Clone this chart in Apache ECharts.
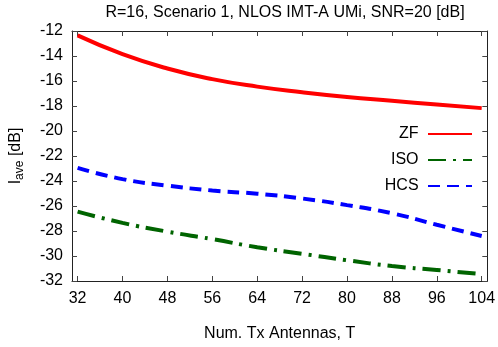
<!DOCTYPE html>
<html>
<head>
<meta charset="utf-8">
<script src="https://cdn.jsdelivr.net/npm/echarts@6/dist/echarts.min.js"></script>
<style>
html, body { margin: 0; padding: 0; background: #fff; }
#chart { width: 498px; height: 347px; }
</style>
</head>
<body>
<div id="chart"></div>
<script>
var antennas = [32, 40, 48, 56, 64, 72, 80, 88, 96, 104];
var zfValues = [-12.35, -13.85, -15.0, -15.85, -16.45, -16.9, -17.28, -17.58, -17.88, -18.17];
var isoValues = [-26.45, -27.35, -28.05, -28.65, -29.3, -29.82, -30.34, -30.8, -31.12, -31.45];
var hcsValues = [-22.95, -23.85, -24.37, -24.76, -25.02, -25.4, -25.93, -26.58, -27.5, -28.4];

var font = 'Liberation Sans, Arial, sans-serif';

function pairs(vals) {
    return antennas.map(function (t, i) { return [t, vals[i]]; });
}

var chart = echarts.init(document.getElementById('chart'));

var baseX = {
    type: 'value',
    min: 31,
    max: 105,
    splitLine: { show: false },
    axisLine: { show: true, onZero: false, lineStyle: { color: '#222', width: 1 } },
    axisTick: { show: true, inside: true, length: 5, customValues: antennas, lineStyle: { color: '#444' } },
    axisLabel: { customValues: antennas, color: '#000', fontSize: 16, fontFamily: font, margin: 10 }
};
var baseY = {
    type: 'value',
    min: -32,
    max: -12,
    interval: 2,
    splitLine: { show: false },
    axisLine: { show: true, onZero: false, lineStyle: { color: '#222', width: 1 } },
    axisTick: { show: true, inside: true, length: 5, lineStyle: { color: '#444' } },
    axisLabel: { color: '#000', fontSize: 16, fontFamily: font, margin: 9 }
};

var option = {
    animation: false,
    title: {
        text: 'R=16, Scenario 1, NLOS IMT-A UMi, SNR=20 [dB]',
        left: 280,
        textAlign: 'center',
        top: 0,
        textStyle: { fontSize: 16, fontWeight: 'normal', color: '#000', fontFamily: font }
    },
    grid: { left: 69, right: 10, top: 31, bottom: 59 },
    legend: {
        orient: 'vertical',
        align: 'right',
        right: 25,
        top: 126,
        padding: 0,
        itemWidth: 44,
        itemHeight: 14,
        itemGap: 10,
        itemStyle: { opacity: 0 },
        formatter: function (name) { return name + ' '; },
        textStyle: { fontSize: 16, color: '#000', fontFamily: font },
        data: ['ZF', 'ISO', 'HCS']
    },
    xAxis: [
        Object.assign({}, baseX, {
            name: 'Num. Tx Antennas, T',
            nameLocation: 'middle',
            nameGap: 45,
            nameTextStyle: { fontSize: 16, color: '#000', fontFamily: font }
        }),
        Object.assign({}, baseX, { position: 'top', axisLabel: { show: false } })
    ],
    yAxis: [
        Object.assign({}, baseY, {
            name: '{a|I}{s|ave}{a| [dB]}',
            nameLocation: 'middle',
            nameGap: 46,
            nameTextStyle: {
                rich: {
                    a: { fontSize: 16, color: '#000', fontFamily: font },
                    s: { fontSize: 12, color: '#000', fontFamily: font, verticalAlign: 'bottom', padding: [8, 0, 0, 0] }
                }
            }
        }),
        Object.assign({}, baseY, { position: 'right', axisLabel: { show: false } })
    ],
    series: [
        {
            name: 'ZF',
            type: 'line',
            smooth: true,
            symbol: 'none',
            data: pairs(zfValues),
            color: '#ff0000',
            lineStyle: { width: 4, color: '#ff0000' }
        },
        {
            name: 'ISO',
            type: 'line',
            smooth: true,
            symbol: 'none',
            data: pairs(isoValues),
            color: '#006400',
            lineStyle: { width: 4, color: '#006400', type: [18, 7, 3, 7] }
        },
        {
            name: 'HCS',
            type: 'line',
            smooth: true,
            symbol: 'none',
            data: pairs(hcsValues),
            color: '#0000ff',
            lineStyle: { width: 4, color: '#0000ff', type: [12, 7] }
        }
    ]
};

chart.setOption(option);
</script>
</body>
</html>
